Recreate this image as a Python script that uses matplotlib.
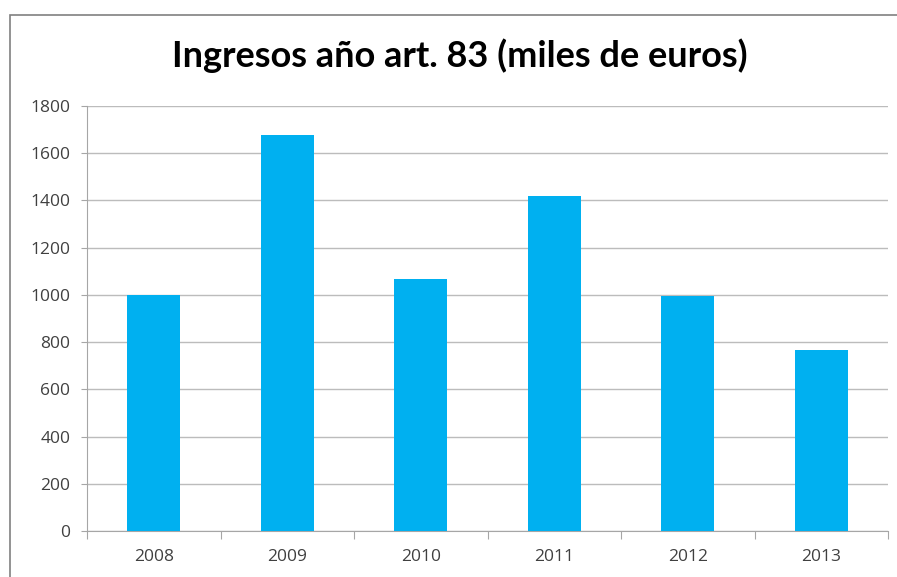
import matplotlib
matplotlib.use("Agg")
import matplotlib.pyplot as plt
from matplotlib.patches import Rectangle
import numpy as np

years = ["2008", "2009", "2010", "2011", "2012", "2013"]
values = [1000, 1678, 1066, 1418, 994, 768]
yticks = [0, 200, 400, 600, 800, 1000, 1200, 1400, 1600, 1800]
title = "Ingresos año art. 83 (miles de euros)"

W, H = 897, 577
fig = plt.figure(figsize=(W / 100, H / 100), dpi=100)
fig.patch.set_facecolor("white")

# chart border (cut at right and bottom)
fig.patches.append(Rectangle((10 / W, -0.1), 1.2, (H - 15) / H + 0.1,
                             transform=fig.transFigure, fill=False,
                             edgecolor="#808080", linewidth=1.2))

left, right, top, bottom = 87, 888, 106, 531
ax = fig.add_axes([left / W, (H - bottom) / H, (right - left) / W, (bottom - top) / H])

x = np.arange(len(years))
ax.bar(x, values, width=0.4, color="#00B0F0", zorder=3)

ax.set_xlim(-0.5, len(years) - 0.5)
ax.set_ylim(0, 1800)
ax.set_yticks(yticks)
ax.set_yticklabels([str(v) for v in yticks])
ax.yaxis.grid(True, color="#BCBCBC", linewidth=1.0, zorder=0)

ax.set_xticks(np.arange(-0.5, len(years), 1.0))
ax.set_xticklabels([])
ax.set_xticks(x, minor=True)
ax.set_xticklabels(years, minor=True)
ax.tick_params(axis="x", which="major", length=6, color="#A6A6A6", direction="out")
ax.tick_params(axis="x", which="minor", length=0, pad=13, labelsize=12.5, labelcolor="#404040")
ax.tick_params(axis="y", length=4, color="#A6A6A6", direction="out", pad=8,
               labelsize=12.5, labelcolor="#404040")

for s in ["top", "right"]:
    ax.spines[s].set_visible(False)
ax.spines["left"].set_color("#A6A6A6")
ax.spines["bottom"].set_color("#A6A6A6")

for lab in ax.get_xticklabels(minor=True) + ax.get_yticklabels():
    lab.set_family("Open Sans")

fig.text(460 / W, 1 - 67 / H, title, ha="center", va="baseline",
         fontsize=26, fontweight="bold", family="Lato", color="#000000")

fig.savefig("out.png", dpi=100)
